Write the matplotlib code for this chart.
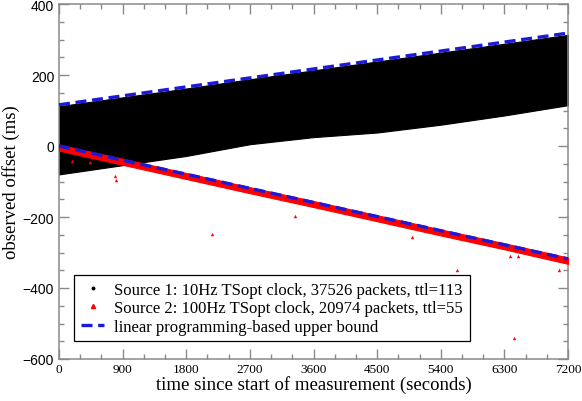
import matplotlib
matplotlib.use("Agg")
import matplotlib.pyplot as plt
from matplotlib.lines import Line2D

# ---- data ----
t_env = [0, 900, 1800, 2700, 3600, 4500, 5400, 6300, 7200]
cloud_low = [-80, -54, -28, 5, 25, 38, 60, 86, 115]         # source 1 lower edge
cloud_high = [112, 137, 162, 188, 213, 238, 263, 288, 313]  # source 1 upper edge

red_low = [-13, -53, -93, -133, -172, -212, -252, -291, -332]  # source 2 band
red_high = [4, -36, -76, -116, -155, -195, -235, -274, -314]

bound_t = [0, 7200]
bound_up = [116, 318]
bound_down = [0, -318]

out_t = [184, 438, 792, 800, 2164, 3338, 4993, 5630, 6380, 6493, 6437, 7073]
out_v = [-42, -45, -85, -95, -248, -197, -256, -349, -310, -310, -541, -349]

xticks = [0, 900, 1800, 2700, 3600, 4500, 5400, 6300, 7200]
yticks = [-600, -400, -200, 0, 200, 400]

labels = ["Source 1: 10Hz TSopt clock, 37526 packets, ttl=113",
          "Source 2: 100Hz TSopt clock, 20974 packets, ttl=55",
          "linear programming-based upper bound"]

serif = "Liberation Serif"
sans = "Liberation Sans"
gray = "#8a8a8a"
blue = "#1a1ad8"

fig = plt.figure(figsize=(5.82, 4.02), dpi=100)
ax = fig.add_axes([59/582, 1-360/402, 509/582, 355/402])

ax.fill_between(t_env, cloud_low, cloud_high, color="black", lw=0.8, zorder=2)
ax.fill_between(t_env, red_low, red_high, color="#ff0000", lw=0.8, zorder=3)
ax.scatter(out_t, out_v, marker="^", s=6, color="#ff0000", lw=0, zorder=3)

dash = (3.3, 1.7)
ax.plot(bound_t, bound_up, color=blue, lw=2.4, dashes=dash, zorder=4)
ax.plot(bound_t, bound_down, color=blue, lw=2.4, dashes=dash, zorder=4)

ax.set_xlim(0, 7200)
ax.set_ylim(-600, 400)
ax.set_xticks(xticks)
ax.set_yticks(yticks)
ax.set_xticks(range(0, 7201, 300), minor=True)
ax.set_yticks(range(-600, 401, 50), minor=True)
ax.tick_params(which="both", direction="in", top=True, right=True, color=gray, width=1)
ax.tick_params(which="major", length=7)
ax.tick_params(which="minor", length=3.6)
ax.tick_params(axis="x", pad=3)
for lab in ax.get_xticklabels():
    lab.set_fontfamily(serif)
    lab.set_fontsize(9.5)
for lab in ax.get_yticklabels():
    lab.set_fontfamily(sans)
    lab.set_fontsize(10)
for s in ax.spines.values():
    s.set_color(gray)
    s.set_linewidth(1.1)

ax.set_xlabel("time since start of measurement (seconds)", family=serif, fontsize=13.5, labelpad=0)
ax.set_ylabel("observed offset (ms)", family=serif, fontsize=13.5, labelpad=2)

handles = [Line2D([], [], ls="none", marker="o", ms=1.8, color="black"),
           Line2D([], [], ls="none", marker="^", ms=3, color="#ff0000"),
           Line2D([], [], color=blue, lw=2.4, dashes=dash)]
leg = ax.legend(handles, labels, loc="lower left", bbox_to_anchor=(0.03, 0.05),
                prop={"family": serif, "size": 12}, frameon=True, fancybox=False,
                edgecolor="black", framealpha=1, handlelength=1.4, handletextpad=0.6,
                borderpad=0.4, labelspacing=0.15, borderaxespad=0)
leg.get_frame().set_linewidth(0.9)

fig.savefig("out.png", dpi=100)
